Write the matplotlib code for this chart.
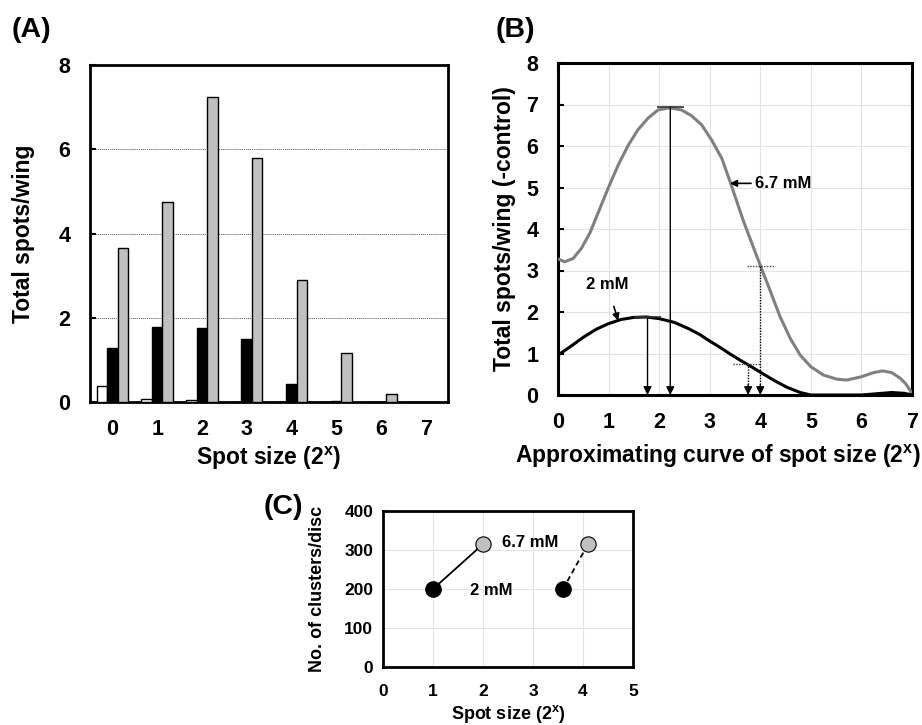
import matplotlib
matplotlib.use('Agg')
import matplotlib.pyplot as plt
import numpy as np

plt.rcParams['font.family'] = ['Liberation Sans', 'DejaVu Sans']
plt.rcParams['font.weight'] = 'bold'
plt.rcParams['mathtext.fontset'] = 'custom'
plt.rcParams['mathtext.rm'] = 'Liberation Sans:bold'
plt.rcParams['mathtext.it'] = 'Liberation Sans:bold'

# ---- (A) bar data ----
spot_sizes = [0, 1, 2, 3, 4, 5, 6, 7]
control_vals = [0.37, 0.07, 0.04, 0.0, 0.0, 0.0, 0.0, 0.0]
mm2_vals = [1.28, 1.78, 1.76, 1.50, 0.42, 0.03, 0.0, 0.01]
mm67_vals = [3.65, 4.75, 7.23, 5.80, 2.90, 1.17, 0.20, 0.01]

# ---- (B) approximating curves ----
curve67_x = [0, 0.13, 0.30, 0.46, 0.63, 0.79, 0.99, 1.19, 1.39, 1.58, 1.78, 1.98, 2.21, 2.44,
             2.64, 2.84, 3.04, 3.24, 3.40, 3.67, 3.86, 4.01, 4.19, 4.39, 4.59, 4.79, 5.0,
             5.25, 5.52, 5.71, 6.0, 6.24, 6.42, 6.6, 6.77, 6.87, 6.96, 7.0]
curve67_y = [3.28, 3.21, 3.29, 3.53, 3.90, 4.38, 4.98, 5.54, 6.02, 6.39, 6.67, 6.87, 6.92, 6.87,
             6.73, 6.51, 6.14, 5.70, 5.15, 4.18, 3.57, 3.09, 2.53, 1.89, 1.37, 0.96, 0.68,
             0.48, 0.38, 0.36, 0.44, 0.54, 0.58, 0.54, 0.40, 0.28, 0.12, 0.0]
curve2_x = [0, 0.25, 0.5, 0.75, 1.0, 1.25, 1.5, 1.75, 2.0, 2.3, 2.58, 2.8, 3.0, 3.2, 3.4, 3.6,
            3.8, 4.0, 4.26, 4.52, 4.79, 5.0, 6.0, 6.3, 6.6, 6.85, 7.0]
curve2_y = [0.96, 1.17, 1.39, 1.58, 1.72, 1.82, 1.87, 1.88, 1.84, 1.75, 1.60, 1.46, 1.30, 1.15,
            0.99, 0.84, 0.70, 0.55, 0.36, 0.19, 0.06, 0.0, 0.0, 0.03, 0.06, 0.04, 0.0]
peak67 = (2.22, 6.93)
peak2 = (1.77, 1.89)
half67 = (4.0, 3.1)
half2 = (3.76, 0.75)

# ---- (C) cluster data ----
c_2mM_x = [1.0, 3.6]
c_67mM_x = [2.0, 4.1]
c_2mM_y = [200, 200]
c_67mM_y = [315, 315]

W, H = 922, 725
fig = plt.figure(figsize=(W / 100, H / 100), dpi=100)


def box(l, t, r, b):
    return [l / W, 1 - b / H, (r - l) / W, (b - t) / H]


def frame(ax, lw=2):
    for s in ax.spines.values():
        s.set_linewidth(lw)
        s.set_color('black')


LAB = 16.5
TCK = 15.5

# ---------------- (A) ----------------
axA = fig.add_axes(box(90, 65, 448, 402))
x = np.arange(len(spot_sizes))
bw = 0.235
axA.bar(x - bw, control_vals, bw, color='white', edgecolor='black', linewidth=1, zorder=3)
axA.bar(x, mm2_vals, bw, color='black', edgecolor='black', linewidth=1, zorder=3)
axA.bar(x + bw, mm67_vals, bw, color='#c0c0c0', edgecolor='black', linewidth=1, zorder=3)
axA.set_xlim(-0.5, 7.5)
axA.set_ylim(0, 8)
axA.set_yticks([0, 2, 4, 6, 8])
axA.set_xticks(x)
axA.set_xticklabels([str(s) for s in spot_sizes])
axA.yaxis.grid(True, linestyle=(0, (1, 1)), color='#555555', linewidth=0.7)
axA.set_axisbelow(True)
axA.tick_params(axis='y', direction='in', length=4, width=1.5, labelsize=TCK, pad=14)
axA.tick_params(axis='x', length=0, labelsize=TCK, pad=12)
axA.set_ylabel('Total spots/wing', fontsize=LAB, fontweight='bold')
axA.set_xlabel(r'Spot size (2$^{x}$)', fontsize=LAB, fontweight='bold')
axA.yaxis.set_label_coords(-0.187, 0.5)
axA.xaxis.set_label_coords(0.5, -0.168)
axA.yaxis.label.set_va('center')
axA.xaxis.label.set_va('center')
frame(axA)
fig.text(12 / W, 1 - 30 / H, '(A)', fontsize=20.5, fontweight='bold', va='center', ha='left')

# ---------------- (B) ----------------
axB = fig.add_axes(box(558, 63, 912, 395))
axB.set_xlim(0, 7)
axB.set_ylim(0, 8)
axB.set_xticks(range(8))
axB.set_yticks(range(9))
axB.grid(True, color='#e3e3e3', linewidth=0.8)
axB.set_axisbelow(True)
axB.plot(curve67_x, curve67_y, color='#808080', lw=2.2, solid_joinstyle='round',
         solid_capstyle='round', zorder=3)
axB.plot(curve2_x, curve2_y, color='black', lw=2.2, solid_joinstyle='round',
         solid_capstyle='round', zorder=3)

arrow_kw = dict(arrowstyle='-|>', color='black', lw=1, mutation_scale=12, shrinkA=0, shrinkB=0)
for px, py in (peak67, peak2):
    axB.annotate('', xy=(px, 0), xytext=(px, py), arrowprops=arrow_kw, zorder=4)
    axB.hlines(py, px - 0.27, px + 0.27, color='#333333', lw=1.2, zorder=4)
for px, py in (half67, half2):
    axB.vlines(px, 0.2, py, color='black', lw=1, linestyles=(0, (1, 1)), zorder=4)
    axB.annotate('', xy=(px, 0), xytext=(px, 0.25), arrowprops=arrow_kw, zorder=4)
axB.hlines(half67[1], 3.74, 4.29, color='#444444', lw=1, linestyles=(0, (1, 1)), zorder=4)
axB.hlines(half2[1], 3.47, 4.0, color='#444444', lw=1, linestyles=(0, (1, 1)), zorder=4)

axB.annotate('6.7 mM', xy=(3.4, 5.1), xytext=(3.9, 5.1), fontsize=12, fontweight='bold',
             va='center', ha='left',
             arrowprops=dict(arrowstyle='-|>', color='black', lw=1.2, mutation_scale=10,
                             shrinkA=1, shrinkB=0))
axB.annotate('2 mM', xy=(1.19, 1.79), xytext=(0.97, 2.67), fontsize=12, fontweight='bold',
             va='center', ha='center',
             arrowprops=dict(arrowstyle='-|>', color='black', lw=1.2, mutation_scale=10,
                             shrinkA=9, shrinkB=0))

axB.tick_params(axis='y', direction='in', length=4, width=1.5, labelsize=TCK, pad=14)
axB.tick_params(axis='x', length=0, labelsize=TCK, pad=12)
axB.set_ylabel('Total spots/wing (-control)', fontsize=LAB, fontweight='bold')
axB.set_xlabel(r'Approximating curve of spot size (2$^{x}$)', fontsize=LAB, fontweight='bold')
axB.yaxis.set_label_coords(-0.15, 0.5)
axB.xaxis.set_label_coords(0.453, -0.185)
axB.yaxis.label.set_va('center')
axB.xaxis.label.set_va('center')
frame(axB, 2.2)
fig.text(496 / W, 1 - 30 / H, '(B)', fontsize=20.5, fontweight='bold', va='center', ha='left')

# ---------------- (C) ----------------
axC = fig.add_axes(box(383, 511, 633, 667))
axC.set_xlim(0, 5)
axC.set_ylim(0, 400)
axC.set_xticks(range(6))
axC.set_yticks([0, 100, 200, 300, 400])
axC.grid(True, color='#e3e3e3', linewidth=0.8)
axC.set_axisbelow(True)
axC.plot([c_2mM_x[0], c_67mM_x[0]], [c_2mM_y[0], c_67mM_y[0]], color='black', lw=1.3, zorder=3)
axC.plot([c_2mM_x[1], c_67mM_x[1]], [c_2mM_y[1], c_67mM_y[1]], color='black', lw=1.3,
         linestyle=(0, (3, 2)), zorder=3)
axC.plot(c_2mM_x, c_2mM_y, 'o', color='black', markersize=11, linestyle='none', zorder=4)
axC.plot(c_67mM_x, c_67mM_y, 'o', markerfacecolor='#c0c0c0', markeredgecolor='black',
         markeredgewidth=0.8, markersize=11, linestyle='none', zorder=4)
axC.text(2.37, 318, '6.7 mM', fontsize=12, fontweight='bold', va='center', ha='left')
axC.text(1.73, 195, '2 mM', fontsize=12, fontweight='bold', va='center', ha='left')
axC.tick_params(axis='both', length=0, labelsize=12.5)
axC.tick_params(axis='y', pad=7)
axC.tick_params(axis='x', pad=12)
axC.set_ylabel('No. of clusters/disc', fontsize=13, fontweight='bold')
axC.set_xlabel(r'Spot size (2$^{x}$)', fontsize=13, fontweight='bold')
axC.yaxis.set_label_coords(-0.262, 0.5)
axC.xaxis.set_label_coords(0.5, -0.30)
axC.yaxis.label.set_va('center')
axC.xaxis.label.set_va('center')
frame(axC, 2)
fig.text(264 / W, 1 - 507 / H, '(C)', fontsize=20.5, fontweight='bold', va='center', ha='left')

fig.savefig('out.png', dpi=100)
